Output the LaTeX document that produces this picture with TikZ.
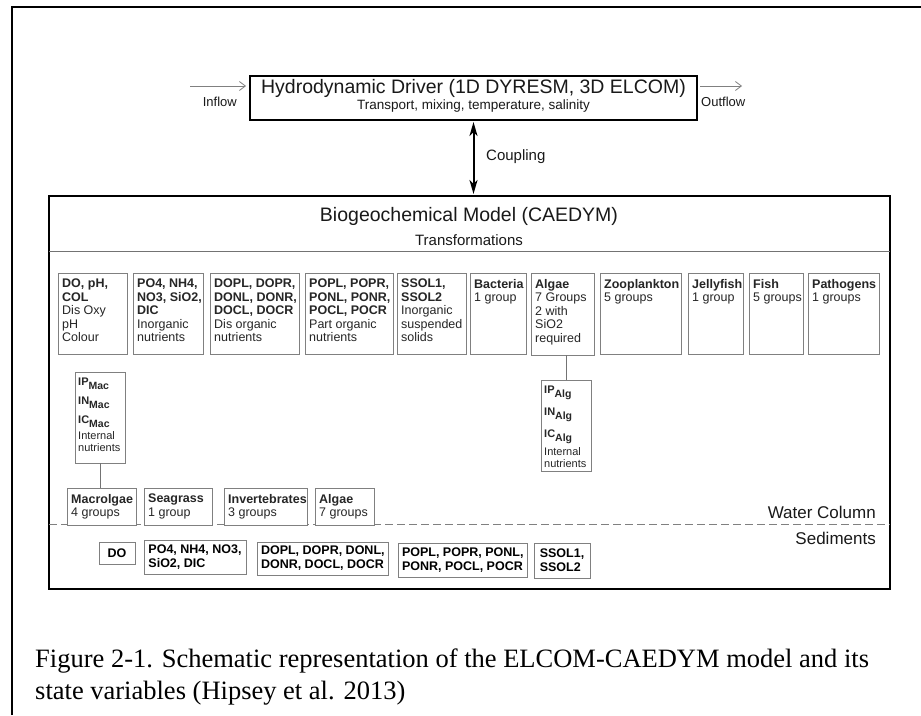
\documentclass[tikz,border=0pt]{standalone}
\usepackage{fontspec}
\setmainfont{Liberation Sans}
\newfontfamily\capfont{Liberation Serif}
\usetikzlibrary{arrows.meta}
\newcommand\fsz[2]{\fontsize{#1pt}{#2pt}\selectfont}
\newcommand\cellbox[6]{%
  \node[cellframe,anchor=north west,minimum width=#4pt,minimum height=#5pt] (#1) at (#2,#3) {};
  \node[celltext,anchor=north west] (#1-t) at ([xshift=4pt,yshift=-6pt]#1.north west) {#6};}
\newcommand\nutbox[5]{%
  \node[cellframe,anchor=north west,minimum width=50pt,minimum height=91pt] (#1) at (#2,#3) {};
  \node[nuttext,anchor=north west] (#1-t) at ([xshift=3pt,yshift=-6pt]#1.north west)
   {\subv{IP}{#4}\\[7pt]\subv{IN}{#4}\\[7pt]\subv{IC}{#4}\\[3pt]#5};}
\newcommand\subv[2]{\textbf{#1}\raisebox{-4pt}{\fsz{10.5}{10.5}\textbf{#2}}}
\newcommand\sedbox[6]{%
  \node[cellframe,anchor=north west,minimum width=#4pt,minimum height=#5pt,
        font=\fsz{12.5}{14}\bfseries,align=left,inner xsep=4pt] (#1) at (#2,#3) {#6};}
\tikzset{
  cellframe/.style={draw=black!50,line width=0.8pt,inner sep=0pt,outer sep=0pt,fill=white},
  celltext/.style={inner sep=0pt,align=left,font=\fsz{12.5}{13.5},text=black!85},
  nuttext/.style={inner sep=0pt,align=left,font=\fsz{11}{12},text=black!85},
  bigbox/.style={draw=black,line width=2.8pt,inner sep=0pt,outer sep=0pt},
  hydrobox/.style={draw=black,line width=2.2pt,inner sep=0pt,outer sep=0pt},
  flow/.style={draw=black!50,line width=0.8pt,-{Straight Barb[length=6pt,width=9pt]}},
  coupling/.style={draw=black,line width=2pt,{Stealth[length=14pt,width=8pt,inset=4pt]}-{Stealth[length=14pt,width=8pt,inset=4pt]}},
  link/.style={draw=black!55,line width=0.8pt},
  lbl/.style={inner sep=0pt,text=black!90}
}
\begin{document}
\begin{tikzpicture}[x=1pt,y=-1pt]
\useasboundingbox[fill=white] (0,0) rectangle (921,715);
% outer frame
\coordinate (f1) at (12,715);
\coordinate (f2) at (12,7);
\coordinate (f3) at (921,7);
\draw[line width=2.2pt] (f1) -- (f2) -- (f3);

% hydrodynamic driver
\node[hydrobox,anchor=north west,minimum width=447pt,minimum height=44pt] (hydro) at (250,76) {};
\node[lbl,font=\fsz{19.5}{22}] (htitle) at (473.5,88) {Hydrodynamic Driver (1D DYRESM, 3D ELCOM)};
\node[lbl,font=\fsz{13.5}{15}] (hsub) at (473.5,106) {Transport, mixing, temperature, salinity};
\coordinate (inA) at (190,86);
\coordinate (outB) at (742,86);
\draw[flow] (inA) -- ([xshift=-4pt]inA -| hydro.west);
\draw[flow] ([xshift=3pt]outB -| hydro.east) -- (outB);
\node[lbl,font=\fsz{13}{15},anchor=east] (inlbl) at (237,102) {Inflow};
\node[lbl,font=\fsz{13}{15},anchor=west] (outlbl) at (701,102) {Outflow};

% biogeochemical model
\node[bigbox,anchor=north west,minimum width=841pt,minimum height=393pt] (bio) at (49,196) {};
\draw[coupling] ([yshift=-2pt]hydro.south) -- ([yshift=2pt]hydro.south |- bio.north);
\node[lbl,font=\fsz{15}{17},anchor=west] (cpl) at (486,157) {Coupling};
\node[lbl,font=\fsz{19.5}{22}] (btitle) at (469,216) {Biogeochemical Model (CAEDYM)};
\node[lbl,font=\fsz{15}{17}] (btrans) at (469,240) {Transformations};
\coordinate (tl) at (49,251);
\draw[draw=black!55,line width=0.9pt] (bio.west |- tl) -- (bio.east |- tl);
\coordinate (dl) at (49,524);
\draw[draw=black!50,line width=0.9pt,dash pattern=on 8pt off 4pt] (bio.west |- dl) -- (bio.east |- dl);
\node[lbl,font=\fsz{17}{19},anchor=east] (wc) at (876,512) {Water Column};
\node[lbl,font=\fsz{17}{19},anchor=east] (sed) at (876,538) {Sediments};

% top row
\cellbox{c1}{58}{273}{69}{81}{\textbf{DO, pH,}\\\textbf{COL}\\Dis Oxy\\pH\\Colour}
\cellbox{c2}{133}{273}{70}{81}{\textbf{PO4, NH4,}\\\textbf{NO3, SiO2,}\\\textbf{DIC}\\Inorganic\\nutrients}
\cellbox{c3}{210}{273}{89}{81}{\textbf{DOPL, DOPR,}\\\textbf{DONL, DONR,}\\\textbf{DOCL, DOCR}\\Dis organic\\nutrients}
\cellbox{c4}{305}{273}{88}{81}{\textbf{POPL, POPR,}\\\textbf{PONL, PONR,}\\\textbf{POCL, POCR}\\Part organic\\nutrients}
\cellbox{c5}{397}{273}{69}{81}{\textbf{SSOL1,}\\\textbf{SSOL2}\\Inorganic\\suspended\\solids}
\cellbox{c6}{470}{273}{56}{81}{\textbf{Bacteria}\\1 group}
\cellbox{c7}{531}{273}{63}{82}{\textbf{Algae}\\7 Groups\\2 with\\SiO2\\required}
\cellbox{c8}{600}{273}{81}{81}{\textbf{Zooplankton}\\5 groups}
\cellbox{c9}{688}{273}{55}{81}{\textbf{Jellyfish}\\1 group}
\cellbox{c10}{749}{273}{54}{81}{\textbf{Fish}\\5 groups}
\cellbox{c11}{808}{273}{71}{81}{\textbf{Pathogens}\\1 groups}

% internal nutrients
\nutbox{ipalg}{541}{380}{Alg}{Internal\\nutrients}
\draw[link] (ipalg.north) -- (ipalg.north |- c7.south);
\nutbox{ipmac}{75}{372}{Mac}{Internal\\nutrients}

% benthic row
\cellbox{m1}{67}{488}{69}{37}{\textbf{Macrolgae}\\4 groups}
\cellbox{m2}{144}{488}{68}{37}{\textbf{Seagrass}\\1 group}
\cellbox{m3}{224}{488}{83}{37}{\textbf{Invertebrates}\\3 groups}
\cellbox{m4}{315}{488}{59}{37}{\textbf{Algae}\\7 groups}
\draw[link] (ipmac.south) -- (ipmac.south |- m1.north);

% sediments
\sedbox{s1}{99}{542}{36}{22}{DO}
\sedbox{s2}{144}{540}{102}{34}{PO4, NH4, NO3,\\SiO2, DIC}
\sedbox{s3}{257}{542}{129}{33}{DOPL, DOPR, DONL,\\DONR, DOCL, DOCR}
\sedbox{s4}{398}{543}{129}{34}{POPL, POPR, PONL,\\PONR, POCL, POCR}
\sedbox{s5}{534}{543}{56}{35}{SSOL1,\\SSOL2}

% caption
\node[inner sep=0pt,anchor=base west,font=\capfont\fsz{26.5}{32}] (cap1) at (35,667) {Figure 2-1. Schematic representation of the ELCOM-CAEDYM model and its};
\node[inner sep=0pt,anchor=base west,font=\capfont\fsz{26.5}{32}] (cap2) at (35,699) {state variables (Hipsey et al. 2013)};
\end{tikzpicture}
\end{document}
